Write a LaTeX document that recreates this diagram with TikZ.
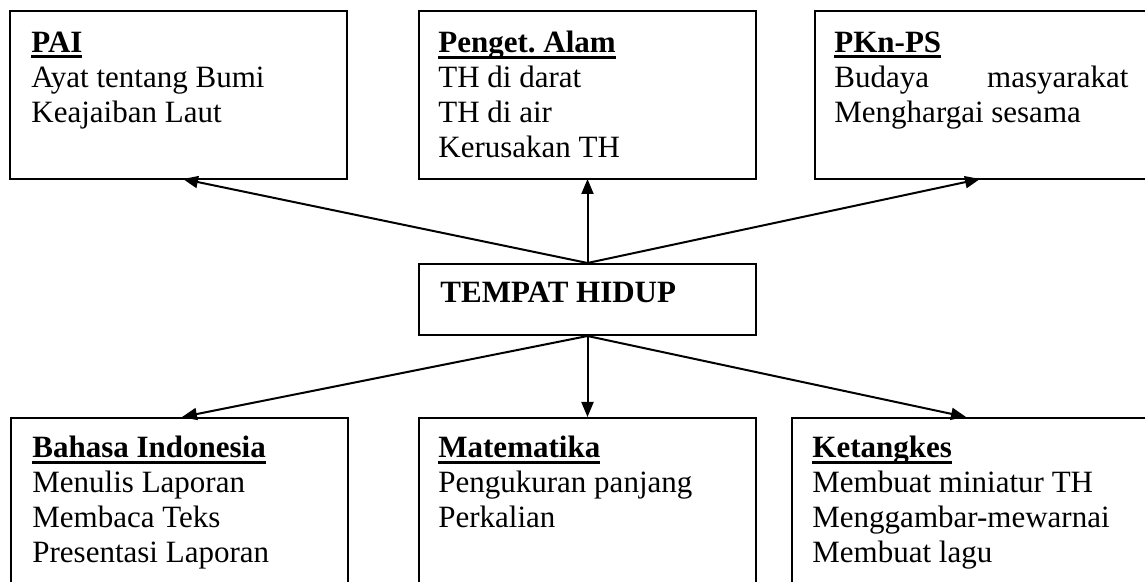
\documentclass[tikz,border=0pt]{standalone}
\usepackage{fontspec}
\setmainfont{Liberation Serif}
\usetikzlibrary{arrows.meta, positioning, calc}
\frenchspacing

% underlined bold subject title
\newcommand{\mapeltitle}[1]{\setbox0\hbox{\textbf{#1}}\rlap{\vrule width\wd0 height -1.5pt depth 3pt}\box0}

\begin{document}
\begin{tikzpicture}[
    x=0.5pt, y=-0.5pt,
    mapel/.style={rectangle, draw, line width=1pt, anchor=north west, minimum width=168.5pt, minimum height=84pt, inner sep=0pt},
    isi/.style={anchor=north west, inner sep=0pt, align=left, font=\fontsize{15.5}{17.5}\selectfont},
    tema/.style={rectangle, draw, line width=1pt, anchor=north west, minimum width=168.5pt, minimum height=35.5pt, inner sep=0pt},
    arrow/.style={-{Triangle[length=7.5pt, width=6pt]}, line width=1pt}
]
\useasboundingbox (0,0) rectangle (1145,582);
\clip (0,0) rectangle (1145,582);

% Top row
\node[mapel] (pai) at (9,10) {};
\node[mapel] (alam) at (418,10) {};
\node[mapel] (pkn) at (814,10) {};
\node[isi] (paiisi) at (31,31.5) {\mapeltitle{PAI}\\Ayat tentang Bumi\\Keajaiban Laut};
\node[isi] (alamisi) at (438,31) {\mapeltitle{Penget. Alam}\\TH di darat\\TH di air\\Kerusakan TH};
\node[isi] (pknisi) at (834,31.5) {\mapeltitle{PKn-PS}\\\hbox to 147pt{Budaya\hfil masyarakat}\\Menghargai sesama};

% Centre topic
\node[tema] (tema) at (418,263) {};
\node[anchor=base west, inner sep=0pt, font=\fontsize{15.5}{17.5}\selectfont\bfseries] (temaisi) at (440,303) {TEMPAT HIDUP};

% Bottom row
\node[mapel, minimum height=100pt] (bi) at (10,417) {};
\node[mapel, minimum height=100pt] (mtk) at (418,417) {};
\node[mapel, minimum width=185pt, minimum height=100pt] (ktk) at (791,417) {};
\node[isi] (biisi) at (32,436) {\mapeltitle{Bahasa Indonesia}\\Menulis Laporan\\Membaca Teks\\Presentasi Laporan};
\node[isi] (mtkisi) at (438,436) {\mapeltitle{Matematika}\\Pengukuran panjang\\Perkalian};
\node[isi] (ktkisi) at (812,436) {\mapeltitle{Ketangkes}\\Membuat miniatur TH\\Menggambar-mewarnai\\Membuat lagu};

% Connectors
\coordinate (temaatas) at (tema.north);
\coordinate (temabawah) at (tema.south);
\coordinate (paibawah) at ($(pai.south west)+(174,-1)$);
\coordinate (alambawah) at ($(alam.south)+(0,-1)$);
\coordinate (pknbawah) at ($(pkn.south west)+(166,-1)$);
\coordinate (biatas) at ($(bi.north west)+(172,0)$);
\coordinate (mtkatas) at (mtk.north);
\coordinate (ktkatas) at ($(ktk.north west)+(175,0)$);
\draw[arrow] (temaatas) -- (paibawah);
\draw[arrow] (temaatas) -- (alambawah);
\draw[arrow] (temaatas) -- (pknbawah);
\draw[arrow] (temabawah) -- (biatas);
\draw[arrow] (temabawah) -- (mtkatas);
\draw[arrow] (temabawah) -- (ktkatas);
\end{tikzpicture}
\end{document}
